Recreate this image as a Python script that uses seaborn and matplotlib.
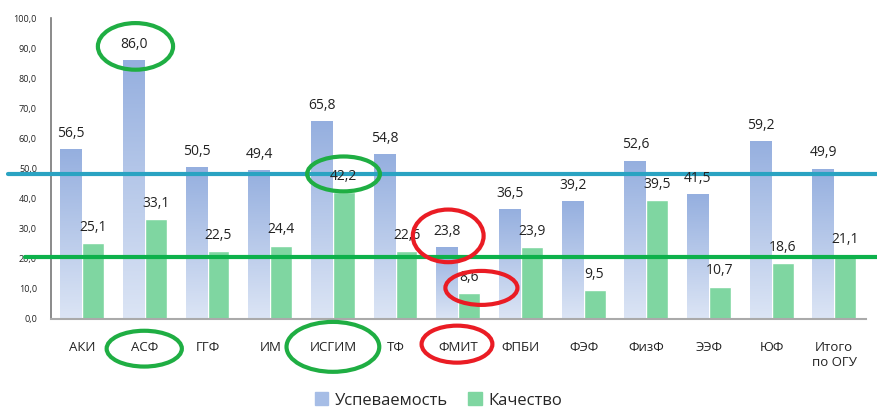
import matplotlib
matplotlib.use("Agg")
import matplotlib.pyplot as plt
from matplotlib.patches import Ellipse
from matplotlib.colors import LinearSegmentedColormap
import numpy as np
import pandas as pd
import seaborn as sns

# данные по факультетам
faculties = ["АКИ", "АСФ", "ГГФ", "ИМ", "ИСГИМ", "ТФ", "ФМИТ", "ФПБИ",
             "ФЭФ", "ФизФ", "ЭЭФ", "ЮФ", "Итого\nпо ОГУ"]
uspev = [56.5, 86.0, 50.5, 49.4, 65.8, 54.8, 23.8, 36.5, 39.2, 52.6, 41.5, 59.2, 49.9]
kach = [25.1, 33.1, 22.5, 24.4, 42.2, 22.6, 8.6, 23.9, 9.5, 39.5, 10.7, 18.6, 21.1]
series = ["Успеваемость", "Качество"]
yticks = np.arange(0, 101, 10)

# уровни, отмеченные линиями
level_uspev = 48.3
level_kach = 20.5

df = pd.DataFrame({
    "fac": faculties * 2,
    "val": uspev + kach,
    "ser": [series[0]] * len(faculties) + [series[1]] * len(faculties),
})

sns.set_style("white")
plt.rcParams["font.family"] = ["Open Sans", "DejaVu Sans"]

fig = plt.figure(figsize=(8.77, 4.12), dpi=100)
ax = fig.add_axes([0.058, 0.226, 0.929, 0.73])

blue = "#a6bde6"
green = "#7fd6a1"
sns.barplot(data=df, x="fac", y="val", hue="ser", order=faculties,
            hue_order=series, palette=[blue, green], width=0.7,
            saturation=1, ax=ax, legend=False)

# градиент для синих столбцов
cmap = LinearSegmentedColormap.from_list("bl", ["#dce5f5", "#95afdf"])
grad = np.linspace(0, 1, 256).reshape(-1, 1)
for bar in ax.containers[0]:
    x0, y0 = bar.get_x(), bar.get_y()
    w, h = bar.get_width(), bar.get_height()
    im = ax.imshow(grad, cmap=cmap, origin="lower", aspect="auto",
                   extent=[x0, x0 + w, y0, y0 + h], zorder=bar.get_zorder())
    im.set_clip_path(bar)

# подписи значений
for cont in ax.containers:
    for bar in cont:
        v = bar.get_height()
        ax.annotate(f"{v:.1f}".replace(".", ","),
                    (bar.get_x() + bar.get_width() / 2, v),
                    xytext=(0, 6), textcoords="offset points",
                    ha="center", va="bottom", fontsize=10, color="#222222",
                    zorder=5)

ax.set_xlim(-0.5, len(faculties) - 0.5)
ax.set_ylim(0, 100)
ax.set_yticks(yticks)
ax.set_yticklabels([f"{t:.1f}".replace(".", ",") for t in yticks],
                   fontsize=6.5, color="#222222")
ax.tick_params(axis="y", length=0, pad=10)
ax.tick_params(axis="x", length=0, pad=16, labelsize=9.5, labelcolor="#222222")
ax.set_xlabel("")
ax.set_ylabel("")
for s in ["top", "right"]:
    ax.spines[s].set_visible(False)
ax.spines["left"].set_color("#777777")
ax.spines["bottom"].set_color("#aaaaaa")
ax.spines["left"].set_linewidth(1.2)
ax.spines["bottom"].set_linewidth(1.5)

# горизонтальные линии уровней
ax.axhline(level_uspev, xmin=-0.053, xmax=1.02, color="#2aa3c2", lw=3,
           clip_on=False, zorder=4)
ax.axhline(level_kach, xmin=-0.032, xmax=1.02, color="#0db14b", lw=3,
           clip_on=False, zorder=4)

# выделение эллипсами
ell_green = "#1fae43"
ell_red = "#ea1c24"
ellipses = [
    (0.85, 90.6, 1.2, 15.5, ell_green),
    (4.17, 48.2, 1.16, 11.6, ell_green),
    (0.99, -9.9, 1.2, 11.9, ell_green),
    (4.0, -9.3, 1.48, 16.6, ell_green),
    (5.84, 27.6, 1.13, 17.5, ell_red),
    (6.37, 10.3, 1.15, 11.3, ell_red),
    (5.98, -8.4, 1.13, 12.3, ell_red),
]
for cx, cy, w, h, c in ellipses:
    ax.add_patch(Ellipse((cx, cy), w, h, fill=False, edgecolor=c, lw=3,
                         clip_on=False, zorder=6))

# легенда
handles = [plt.Rectangle((0, 0), 1, 1, color=blue),
           plt.Rectangle((0, 0), 1, 1, color=green)]
fig.legend(handles, series, loc="center", bbox_to_anchor=(0.5, 0.028),
           ncol=2, frameon=False, fontsize=12, handlelength=0.8,
           handleheight=0.8, handletextpad=0.4, columnspacing=1.2)

fig.savefig("out.png", dpi=100)
